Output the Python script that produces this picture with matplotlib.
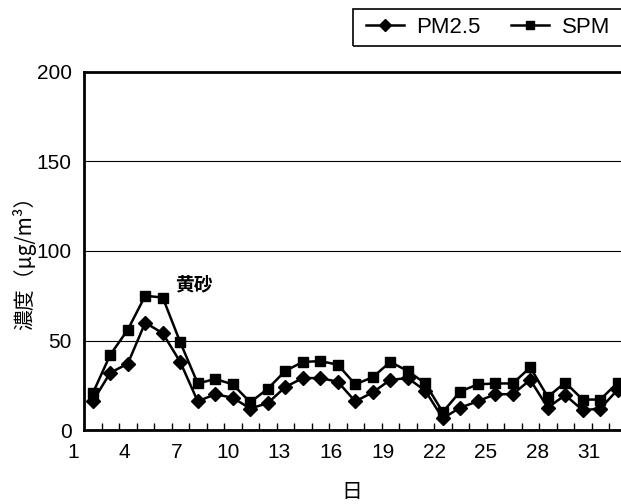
import numpy as np
import matplotlib
matplotlib.use('Agg')
import matplotlib.pyplot as plt
from matplotlib.lines import Line2D
from matplotlib.patches import Rectangle

plt.rcParams['font.family'] = ['Liberation Sans', 'Noto Sans CJK JP', 'DejaVu Sans']

# daily mean concentrations (ug/m3)
days = np.arange(1, 32)
pm25 = [16, 32, 37, 60, 54, 38, 16, 20, 18, 12,
        15, 24, 29, 29, 27, 16, 21, 28, 29, 22,
        6.5, 12.5, 16, 20, 20, 28, 12.5, 19.5, 11, 12, 22.5]
spm = [20.5, 42, 56, 75, 74, 49, 26, 28.5, 25.5, 15.5,
       23, 33, 38, 38.5, 36.5, 25.5, 29.5, 38, 33, 26,
       10, 21.5, 25.5, 26, 26, 35, 18.5, 26.5, 17, 17, 26.5]
xtick_labels = ['1', '4', '7', '10', '13', '16', '19', '22', '25', '28', '31']
yticks = [0, 50, 100, 150, 200]

W, H = 621, 504
fig = plt.figure(figsize=(W / 100, H / 100), dpi=100)
ax = fig.add_axes([84 / W, 74 / H, 542.5 / W, 358 / H])

for y in [50, 100, 150]:
    ax.axhline(y, color='black', lw=0.8, zorder=1)

ax.plot(days, spm, color='black', lw=1.8, marker='s', markersize=7.2, zorder=3)
ax.plot(days, pm25, color='black', lw=1.8, marker='D', markersize=7.0, zorder=4)

ax.set_xlim(0.5, 31.5)
ax.set_ylim(0, 200)

for side in ['left', 'bottom', 'top']:
    ax.spines[side].set_linewidth(2)
ax.spines['right'].set_visible(False)

ax.set_yticks(yticks)
ax.tick_params(axis='y', length=0, pad=9, labelsize=15)
ax.set_xticks([])
ax.set_xticks(np.arange(1.5, 31, 1), minor=True)
ax.tick_params(axis='x', which='minor', direction='in', length=5, width=1)

# day labels along the bottom
for pos, lab in zip(np.linspace(-0.13, 29.36, len(xtick_labels)), xtick_labels):
    ax.text(pos, -0.035, lab, transform=ax.get_xaxis_transform(),
            ha='center', va='top', fontsize=15, clip_on=False)

cjk = ['Noto Sans CJK JP', 'DejaVu Sans']
ax.text(6.75, 81, '黄砂', ha='center', va='center', fontsize=13.5,
        fontweight='bold', family=cjk)

fig.text(24 / W, 1 - 258 / H, '濃度（μg/m³）', rotation=90, ha='center',
         va='center', fontsize=15, family=cjk)
fig.text(352 / W, 1 - 492 / H, '日', ha='center', va='center', fontsize=15,
         family=cjk)

# legend box runs off the right edge
fig.patches.append(Rectangle((352.7 / W, 1 - 46 / H), 300 / W, 36.7 / H,
                             transform=fig.transFigure, fill=False,
                             edgecolor='black', lw=1.2))
handles = [Line2D([], [], color='black', lw=1.8, marker='D', markersize=6),
           Line2D([], [], color='black', lw=1.8, marker='s', markersize=6)]
fig.legend(handles, ['PM2.5', 'SPM'], ncol=2, loc='center left',
           bbox_to_anchor=(366 / W, 1 - 27.7 / H), fontsize=16,
           frameon=False, handlelength=1.7, handletextpad=0.55,
           columnspacing=1.4, borderpad=0, borderaxespad=0)

fig.savefig('out.png', dpi=100)
